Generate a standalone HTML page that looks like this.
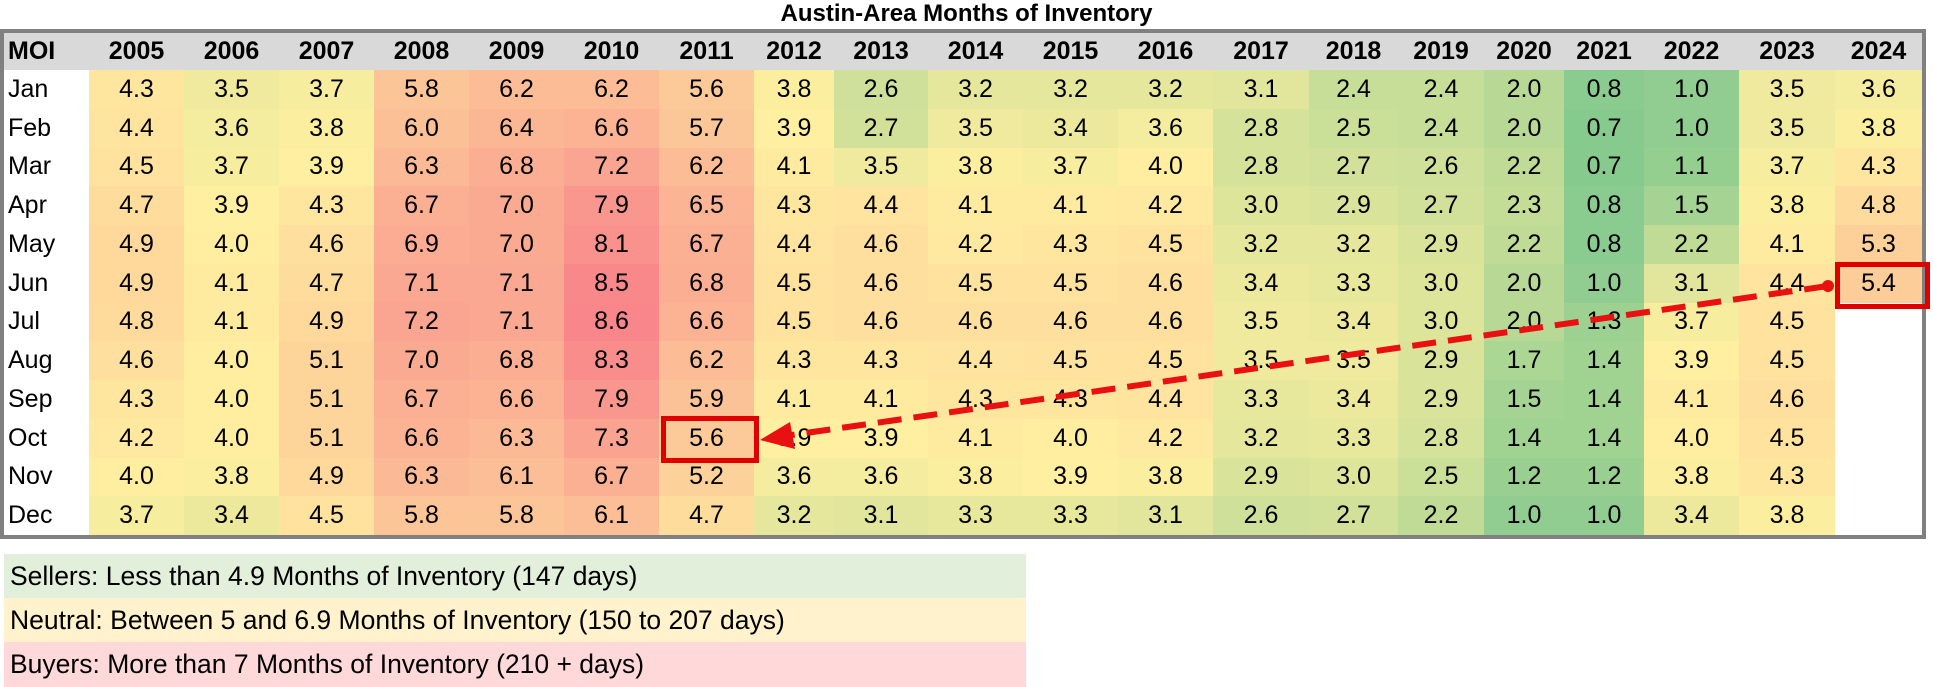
<!DOCTYPE html>
<html><head><meta charset="utf-8">
<style>
body{margin:0;width:1933px;height:687px;background:#fff;position:relative;overflow:hidden;font-family:"Liberation Sans",sans-serif;}
#title{position:absolute;left:0;width:1933px;top:0;height:27px;line-height:27px;text-align:center;font-weight:bold;font-size:24px;}
#tbl{position:absolute;left:0;top:29px;border:4px solid #808080;border-collapse:collapse;table-layout:fixed;}
#tbl td,#tbl th{padding:0;text-align:center;font-size:25px;white-space:nowrap;overflow:hidden;}
#tbl th{background:#d9d9d9;height:37px;font-weight:bold;}
#tbl td{height:38.75px;}
#tbl th:first-child,#tbl td:first-child{text-align:left;padding-left:4px;}
.leg{position:absolute;left:4px;width:1022px;font-size:26.5px;padding-left:6px;box-sizing:border-box;}
svg{position:absolute;left:0;top:0;}
</style></head><body>
<div id="title">Austin-Area Months of Inventory</div>
<table id="tbl">
<colgroup><col style="width:87px"><col style="width:95px"><col style="width:95px"><col style="width:95px"><col style="width:95px"><col style="width:95px"><col style="width:95px"><col style="width:95px"><col style="width:80px"><col style="width:94px"><col style="width:95px"><col style="width:95px"><col style="width:95px"><col style="width:96px"><col style="width:89px"><col style="width:86px"><col style="width:80px"><col style="width:80px"><col style="width:95px"><col style="width:96px"><col style="width:89px"></colgroup>
<tr><th>MOI</th><th>2005</th><th>2006</th><th>2007</th><th>2008</th><th>2009</th><th>2010</th><th>2011</th><th>2012</th><th>2013</th><th>2014</th><th>2015</th><th>2016</th><th>2017</th><th>2018</th><th>2019</th><th>2020</th><th>2021</th><th>2022</th><th>2023</th><th>2024</th></tr>
<tr><td>Jan</td><td>4.3</td><td>3.5</td><td>3.7</td><td>5.8</td><td>6.2</td><td>6.2</td><td>5.6</td><td>3.8</td><td>2.6</td><td>3.2</td><td>3.2</td><td>3.2</td><td>3.1</td><td>2.4</td><td>2.4</td><td>2.0</td><td>0.8</td><td>1.0</td><td>3.5</td><td>3.6</td></tr>
<tr><td>Feb</td><td>4.4</td><td>3.6</td><td>3.8</td><td>6.0</td><td>6.4</td><td>6.6</td><td>5.7</td><td>3.9</td><td>2.7</td><td>3.5</td><td>3.4</td><td>3.6</td><td>2.8</td><td>2.5</td><td>2.4</td><td>2.0</td><td>0.7</td><td>1.0</td><td>3.5</td><td>3.8</td></tr>
<tr><td>Mar</td><td>4.5</td><td>3.7</td><td>3.9</td><td>6.3</td><td>6.8</td><td>7.2</td><td>6.2</td><td>4.1</td><td>3.5</td><td>3.8</td><td>3.7</td><td>4.0</td><td>2.8</td><td>2.7</td><td>2.6</td><td>2.2</td><td>0.7</td><td>1.1</td><td>3.7</td><td>4.3</td></tr>
<tr><td>Apr</td><td>4.7</td><td>3.9</td><td>4.3</td><td>6.7</td><td>7.0</td><td>7.9</td><td>6.5</td><td>4.3</td><td>4.4</td><td>4.1</td><td>4.1</td><td>4.2</td><td>3.0</td><td>2.9</td><td>2.7</td><td>2.3</td><td>0.8</td><td>1.5</td><td>3.8</td><td>4.8</td></tr>
<tr><td>May</td><td>4.9</td><td>4.0</td><td>4.6</td><td>6.9</td><td>7.0</td><td>8.1</td><td>6.7</td><td>4.4</td><td>4.6</td><td>4.2</td><td>4.3</td><td>4.5</td><td>3.2</td><td>3.2</td><td>2.9</td><td>2.2</td><td>0.8</td><td>2.2</td><td>4.1</td><td>5.3</td></tr>
<tr><td>Jun</td><td>4.9</td><td>4.1</td><td>4.7</td><td>7.1</td><td>7.1</td><td>8.5</td><td>6.8</td><td>4.5</td><td>4.6</td><td>4.5</td><td>4.5</td><td>4.6</td><td>3.4</td><td>3.3</td><td>3.0</td><td>2.0</td><td>1.0</td><td>3.1</td><td>4.4</td><td>5.4</td></tr>
<tr><td>Jul</td><td>4.8</td><td>4.1</td><td>4.9</td><td>7.2</td><td>7.1</td><td>8.6</td><td>6.6</td><td>4.5</td><td>4.6</td><td>4.6</td><td>4.6</td><td>4.6</td><td>3.5</td><td>3.4</td><td>3.0</td><td>2.0</td><td>1.3</td><td>3.7</td><td>4.5</td><td></td></tr>
<tr><td>Aug</td><td>4.6</td><td>4.0</td><td>5.1</td><td>7.0</td><td>6.8</td><td>8.3</td><td>6.2</td><td>4.3</td><td>4.3</td><td>4.4</td><td>4.5</td><td>4.5</td><td>3.5</td><td>3.5</td><td>2.9</td><td>1.7</td><td>1.4</td><td>3.9</td><td>4.5</td><td></td></tr>
<tr><td>Sep</td><td>4.3</td><td>4.0</td><td>5.1</td><td>6.7</td><td>6.6</td><td>7.9</td><td>5.9</td><td>4.1</td><td>4.1</td><td>4.3</td><td>4.3</td><td>4.4</td><td>3.3</td><td>3.4</td><td>2.9</td><td>1.5</td><td>1.4</td><td>4.1</td><td>4.6</td><td></td></tr>
<tr><td>Oct</td><td>4.2</td><td>4.0</td><td>5.1</td><td>6.6</td><td>6.3</td><td>7.3</td><td>5.6</td><td>3.9</td><td>3.9</td><td>4.1</td><td>4.0</td><td>4.2</td><td>3.2</td><td>3.3</td><td>2.8</td><td>1.4</td><td>1.4</td><td>4.0</td><td>4.5</td><td></td></tr>
<tr><td>Nov</td><td>4.0</td><td>3.8</td><td>4.9</td><td>6.3</td><td>6.1</td><td>6.7</td><td>5.2</td><td>3.6</td><td>3.6</td><td>3.8</td><td>3.9</td><td>3.8</td><td>2.9</td><td>3.0</td><td>2.5</td><td>1.2</td><td>1.2</td><td>3.8</td><td>4.3</td><td></td></tr>
<tr><td>Dec</td><td>3.7</td><td>3.4</td><td>4.5</td><td>5.8</td><td>5.8</td><td>6.1</td><td>4.7</td><td>3.2</td><td>3.1</td><td>3.3</td><td>3.3</td><td>3.1</td><td>2.6</td><td>2.7</td><td>2.2</td><td>1.0</td><td>1.0</td><td>3.4</td><td>3.8</td><td></td></tr>
</table>
<div class="leg" style="top:554px;height:44px;line-height:44px;background:#e2efda;">Sellers: Less than 4.9 Months of Inventory (147 days)</div>
<div class="leg" style="top:598px;height:44px;line-height:44px;background:#fff2cc;">Neutral: Between 5 and 6.9 Months of Inventory (150 to 207 days)</div>
<div class="leg" style="top:642px;height:45px;line-height:45px;background:#ffd9d9;">Buyers: More than 7 Months of Inventory (210 + days)</div>
<svg width="1933" height="687">
<rect x="663.5" y="418.5" width="93" height="42" fill="none" stroke="#e00000" stroke-width="5"/>
<rect x="1837.5" y="264.5" width="90" height="42" fill="none" stroke="#e00000" stroke-width="5"/>
<line x1="1828" y1="286" x2="785" y2="436" stroke="#e81010" stroke-width="6" stroke-dasharray="24,12"/>
<polygon points="760,440 790,422 795,449" fill="#e81010"/>
<circle cx="1828" cy="286" r="6" fill="#e81010"/>
</svg>
<script>
function mix(a,b,t){return a.map((v,i)=>Math.round(v+(b[i]-v)*t));}
var G=[134,202,142],Y=[255,239,160],R=[248,134,138],M=3.9;
document.querySelectorAll('#tbl tr').forEach(function(tr,ri){if(!ri)return;
tr.querySelectorAll('td').forEach(function(td,ci){if(!ci)return;var v=parseFloat(td.textContent);if(isNaN(v))return;
var c=v<M?mix(G,Y,(v-0.7)/(M-0.7)):mix(Y,R,(v-M)/(8.6-M));td.style.background='rgb('+c.join(',')+')';});});
</script>
</body></html>
